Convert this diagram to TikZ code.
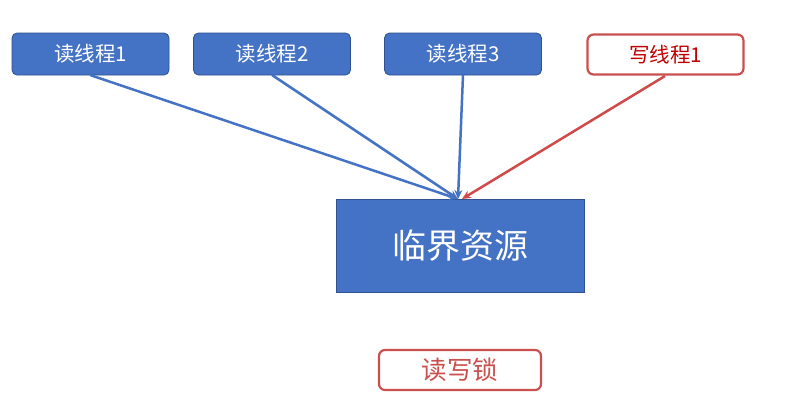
\documentclass[tikz,border=0pt]{standalone}
\usepackage{fontspec}
\newfontfamily\cjk{Noto Sans CJK SC}
\usetikzlibrary{arrows.meta}
\definecolor{boxblue}{HTML}{4472C4}
\definecolor{boxedge}{HTML}{2F528F}
\definecolor{lockred}{HTML}{C9504F}
\definecolor{textred}{HTML}{C00000}
\definecolor{arrred}{HTML}{D04A4A}
\tikzset{
  thread/.style={draw=boxedge, fill=boxblue, rounded corners=5pt, line width=0.8pt,
    minimum width=157pt, minimum height=42pt, inner sep=0pt, text=white, font=\cjk\fontsize{20.5}{22}\selectfont},
  wthread/.style={draw=lockred, fill=white, rounded corners=6pt, line width=2.2pt,
    minimum width=156pt, minimum height=40pt, inner sep=0pt, text=textred, font=\cjk\fontsize{20.5}{22}\selectfont},
  resource/.style={draw=boxedge, fill=boxblue, line width=0.6pt,
    minimum width=248pt, minimum height=93pt, inner sep=0pt, text=white, font=\cjk\fontsize{34}{38}\selectfont},
  lock/.style={draw=lockred, fill=white, rounded corners=6pt, line width=2.2pt,
    minimum width=162pt, minimum height=40pt, inner sep=0pt, text=lockred, font=\cjk\fontsize{25.5}{28}\selectfont},
  barr/.style={draw=boxblue, line width=2.5pt, -{Stealth[length=9pt,width=8pt]}},
  rarr/.style={draw=arrred, line width=2.5pt, -{Stealth[length=9pt,width=8pt]}}
}
\begin{document}
\begin{tikzpicture}[x=1pt,y=-1pt]
\useasboundingbox (0,0) rectangle (810,405);
\fill[white] (0,0) rectangle (810,405);
\node[thread] (r1) at (90.5,54) {读线程1};
\node[thread] (r2) at (272,54) {读线程2};
\node[thread] (r3) at (463,54) {读线程3};
\node[wthread] (w1) at (665.5,54.5) {写线程1};
\node[resource] (res) at (460,245.5) {临界资源};
\node[lock] (lk) at (460,370) {读写锁};
\coordinate (tb) at (458,199);
\coordinate (tr) at (462,199);
\coordinate (s1) at (90,75);
\coordinate (s2) at (272,75);
\coordinate (s3) at (463,75);
\coordinate (s4) at (665,76);
\draw[barr] (s1) -- (tb);
\draw[barr] (s2) -- (tb);
\draw[barr] (s3) -- (tb);
\draw[rarr] (s4) -- (tr);
\end{tikzpicture}
\end{document}
